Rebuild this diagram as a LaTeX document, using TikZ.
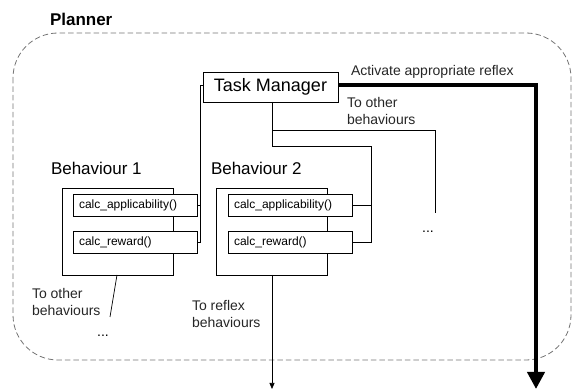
\documentclass[tikz,border=0pt]{standalone}
\usepackage{fontspec}
\setmainfont{Liberation Sans}
\usetikzlibrary{arrows.meta}
\begin{document}
\begin{tikzpicture}[x=1pt,y=-1pt,
  every node/.style={inner sep=0pt, outer sep=0pt},
  box/.style={draw=black, line width=0.7pt, fill=white},
  calcbox/.style={box, minimum width=124pt, minimum height=22pt, text width=112pt, align=left,
     font=\fontsize{12}{14}\selectfont},
  outerbox/.style={box, minimum width=111pt, minimum height=87pt},
  title/.style={font=\fontsize{17}{20}\selectfont, anchor=west},
  lbl/.style={font=\fontsize{14}{17}\selectfont, align=left, anchor=north west, text=black!85},
  conn/.style={draw=black, line width=0.7pt},
  planbox/.style={draw=black!55, line width=0.8pt, dash pattern=on 5.5pt off 3pt, rounded corners=45pt}
]
\useasboundingbox (0,0) rectangle (574,390);

% Planner region
\draw[planbox] (13,33) rectangle (571,360);
\node[anchor=west, font=\bfseries\fontsize{17}{20}\selectfont] (planner) at (50,19) {Planner};

% Task manager
\node[box, minimum width=135pt, minimum height=30pt, font=\fontsize{18}{21}\selectfont] (tm) at (270.5,87) {Task Manager};

% Behaviour 1
\node[title] (b1t) at (51,168) {Behaviour 1};
\node[outerbox] (b1) at (117.5,231.5) {};
\node[calcbox] (b1a) at (135,205) {calc\_applicability()};
\node[calcbox] (b1r) at (135,242.5) {calc\_reward()};

% Behaviour 2
\node[title] (b2t) at (211,168) {Behaviour 2};
\node[outerbox] (b2) at (271.5,231.5) {};
\node[calcbox] (b2a) at (290,205) {calc\_applicability()};
\node[calcbox] (b2r) at (290,242.5) {calc\_reward()};

% labels
\node[lbl] (act) at (351,65) {Activate appropriate reflex};
\node[lbl] (oth1) at (347,97) {To other\\[0pt]behaviours};
\node[lbl] (oth2) at (32,288) {To other\\[0pt]behaviours};
\node[lbl] (refl) at (192,300) {To reflex\\[0pt]behaviours};
\node[font=\fontsize{14}{17}\selectfont] (dots1) at (428,232) {...};
\node[font=\fontsize{14}{17}\selectfont] (dots2) at (103,336) {...};

% coordinates
\coordinate (tmL) at (203,85);
\coordinate (tmR) at (338,85);
\coordinate (reflexend) at (536,389);
\coordinate (othend) at (435,213);
\coordinate (b1end) at (110,317);
\coordinate (b2end) at (272,389);

% Task manager to behaviour 1
\draw[conn] (tmL) -- (200.5,85) -- (200.5,242.5) -- (b1r.east);
\draw[conn] (b1a.east) -- (200.5,205);

% Task manager to behaviour 2 and others
\draw[conn] (tm.south -| 272,0) -- (272,146) -- (371,146) -- (371,242.5) -- (b2r.east);
\draw[conn] (b2a.east) -- (371,205);
\draw[conn] (272,130) -| (othend);

% outgoing
\draw[conn] (117,275) -- (b1end);
\draw[conn, -{Triangle[width=5pt,length=6pt]}] (b2.south -| 272,0) -- (b2end);

% thick reflex arrow
\draw[line width=4pt, -{Triangle[width=17pt,length=17pt]}] (tmR) -| (reflexend);
\end{tikzpicture}
\end{document}
